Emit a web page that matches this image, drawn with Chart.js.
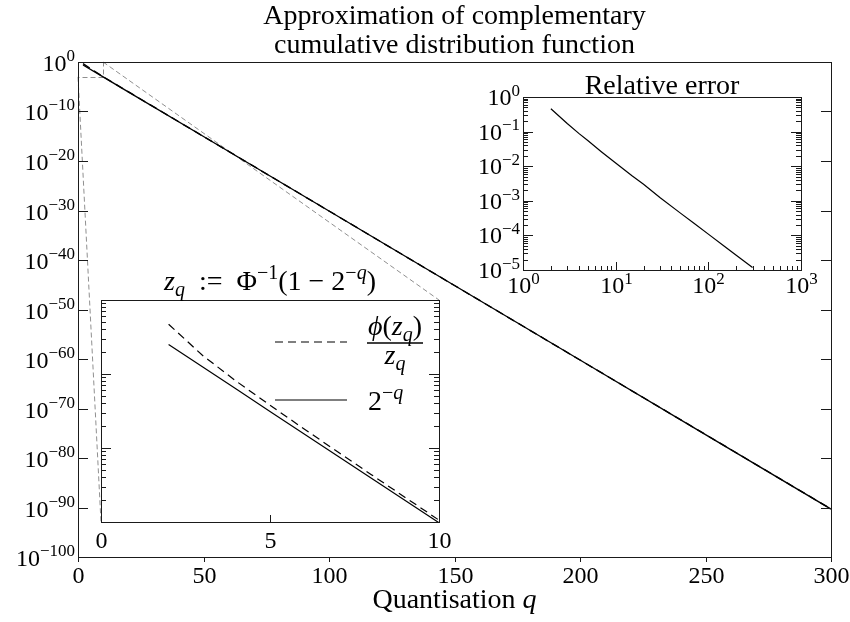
<!DOCTYPE html>
<html>
<head>
<meta charset="utf-8">
<script src="https://cdn.jsdelivr.net/npm/chart.js@4.4.1/dist/chart.umd.min.js"></script>
<style>
  html, body { margin: 0; padding: 0; background: #fff; }
  #wrap { position: relative; width: 850px; height: 622px; }
  #wrap canvas { position: absolute; left: 0; top: 0; }
</style>
</head>
<body>
<div id="wrap">
  <canvas id="mainChart" width="850" height="622"></canvas>
  <canvas id="errChart" width="850" height="622"></canvas>
  <canvas id="zoomChart" width="850" height="622"></canvas>
</div>
<script>
// tail probability 2^-q and its approximation phi(z_q)/z_q over the full q range
const qMain = [2, 10, 20, 50, 100, 150, 200, 250, 300];
const tailExact = [0.25, 9.77e-4, 9.54e-7, 8.88e-16, 7.89e-31, 7.01e-46, 6.22e-61, 5.53e-76, 4.91e-91];
const tailApprox = [0.471, 1.06e-3, 9.94e-7, 9.02e-16, 7.95e-31, 7.04e-46, 6.24e-61, 5.55e-76, 4.92e-91];

// close-up for small q
const qZoom = [2, 3, 4, 5, 6, 7, 8, 9, 10];
const zoomExact = [0.25, 0.125, 0.0625, 0.03125, 0.0156, 0.00781, 0.00391, 0.00195, 9.77e-4];
const zoomApprox = [0.471, 0.179, 0.0800, 0.0379, 0.0182, 0.00888, 0.00436, 0.00215, 1.06e-3];

// relative error of the approximation
const qErr = [2, 3, 4, 5, 7, 10, 15, 20, 30, 50, 70, 100, 150, 200, 250, 300];
const relErr = [0.458, 0.172, 0.089, 0.055, 0.0263, 0.0124, 0.0053, 0.0030, 0.00124, 4.4e-4, 2.25e-4, 1.09e-4, 4.8e-5, 2.67e-5, 1.70e-5, 1.18e-5];

// tick positions (exponents for log axes)
const mainXTicks = [0, 50, 100, 150, 200, 250, 300];
const mainYExp = [0, -10, -20, -30, -40, -50, -60, -70, -80, -90, -100];
const errXExp = [0, 1, 2, 3];
const errYExp = [0, -1, -2, -3, -4, -5];
const zoomXTicks = [0, 5, 10];
const zoomYExp = [0, -1, -2, -3];

const SERIF = '"Liberation Serif", "Times New Roman", serif';
const NUM = 24;
const TXT = 28;
const INK = '#1a1a1a';
const GREY = '#8f8f8f';

const pts = (xs, ys) => xs.map((x, i) => ({ x: x, y: ys[i] }));
const px = v => Math.round(v) + 0.5;

function setFont(ctx, size, italic) {
    ctx.font = (italic ? 'italic ' : '') + size + 'px ' + SERIF;
}

// runs are [text, style]; style: '' | 'i' | 'sup' | 'isup' | 'sub' | 'isub'
function layoutRuns(ctx, runs, size) {
    let w = 0;
    const out = runs.map(([t, s]) => {
        const small = s.includes('sup') || s.includes('sub');
        const sz = small ? Math.round(size * 0.7) : size;
        const it = s.startsWith('i');
        setFont(ctx, sz, it);
        const r = { t: t, sz: sz, it: it, x: w,
            dy: s.includes('sup') ? -size * 0.38 : (s.includes('sub') ? size * 0.22 : 0) };
        w += ctx.measureText(t).width;
        return r;
    });
    return { runs: out, width: w };
}

function drawRuns(ctx, runs, x, y, size, align) {
    const m = layoutRuns(ctx, runs, size);
    const x0 = align === 'right' ? x - m.width : (align === 'center' ? x - m.width / 2 : x);
    ctx.textAlign = 'left';
    ctx.textBaseline = 'alphabetic';
    ctx.fillStyle = '#000';
    m.runs.forEach(r => {
        setFont(ctx, r.sz, r.it);
        ctx.fillText(r.t, x0 + r.x, y + r.dy);
    });
    return m.width;
}

const powRuns = e => [['10', ''], [e < 0 ? '\u2212' + (-e) : String(e), 'sup']];

function seg(ctx, x1, y1, x2, y2) {
    ctx.beginPath();
    ctx.moveTo(x1, y1);
    ctx.lineTo(x2, y2);
    ctx.stroke();
}

function frame(ctx, a) {
    ctx.strokeStyle = INK;
    ctx.lineWidth = 1;
    ctx.setLineDash([]);
    ctx.strokeRect(px(a.left), px(a.top), Math.round(a.right) - Math.round(a.left), Math.round(a.bottom) - Math.round(a.top));
}

// inward ticks on both sides of a log y axis, majors at the given exponents
function logYTicks(ctx, a, y, exps, major, minor) {
    const lo = Math.min(...exps), hi = Math.max(...exps);
    for (let e = lo; e < hi; e++) {
        for (let m = 2; m <= 9; m++) {
            const yy = px(y.getPixelForValue(m * Math.pow(10, e)));
            seg(ctx, a.left, yy, a.left + minor, yy);
            seg(ctx, a.right - minor, yy, a.right, yy);
        }
    }
    exps.forEach(e => {
        const yy = px(y.getPixelForValue(Math.pow(10, e)));
        seg(ctx, a.left, yy, a.left + major, yy);
        seg(ctx, a.right - major, yy, a.right, yy);
    });
}

function whiteArea(chart) {
    const { ctx, chartArea: a } = chart;
    ctx.save();
    ctx.fillStyle = '#fff';
    ctx.fillRect(a.left, a.top, a.right - a.left, a.bottom - a.top);
    ctx.restore();
}

function baseOptions(pad, xs, ys) {
    return {
        responsive: false,
        animation: false,
        events: [],
        layout: { padding: pad },
        plugins: { legend: { display: false }, tooltip: { enabled: false } },
        elements: { point: { radius: 0 }, line: { tension: 0 } },
        scales: {
            x: Object.assign({ display: false }, xs),
            y: Object.assign({ display: false }, ys)
        }
    };
}

// ---------- relative error inset ----------
const errChart = new Chart(document.getElementById('errChart'), {
    type: 'line',
    data: { datasets: [{ data: pts(qErr, relErr), borderColor: '#000', borderWidth: 1.2 }] },
    options: baseOptions({ left: 523, top: 97, right: 49, bottom: 352 },
        { type: 'logarithmic', min: 1, max: 1000 },
        { type: 'logarithmic', min: 1e-5, max: 1 }),
    plugins: [{
        id: 'errFrame',
        beforeDraw: whiteArea,
        afterDraw(chart) {
            const { ctx, chartArea: a, scales: { x, y } } = chart;
            ctx.save();
            frame(ctx, a);
            logYTicks(ctx, a, y, errYExp, 10, 5);
            for (let e = 0; e < 3; e++) {
                for (let m = 2; m <= 9; m++) {
                    const xx = px(x.getPixelForValue(m * Math.pow(10, e)));
                    seg(ctx, xx, a.bottom, xx, a.bottom - 4);
                }
            }
            errXExp.forEach(e => {
                const xx = px(x.getPixelForValue(Math.pow(10, e)));
                seg(ctx, xx, a.bottom, xx, a.bottom - 8);
                drawRuns(ctx, powRuns(e), xx, a.bottom + 23, NUM, 'center');
            });
            errYExp.forEach(e => {
                const yy = y.getPixelForValue(Math.pow(10, e));
                drawRuns(ctx, powRuns(e), a.left - 3, yy + 8, NUM, 'right');
            });
            drawRuns(ctx, [['Relative error', '']], (a.left + a.right) / 2, a.top - 3, TXT, 'center');
            ctx.restore();
        }
    }]
});

// ---------- small-q inset ----------
const zoomChart = new Chart(document.getElementById('zoomChart'), {
    type: 'line',
    data: {
        datasets: [
            { data: pts(qZoom, zoomExact), borderColor: '#000', borderWidth: 1.2 },
            { data: pts(qZoom, zoomApprox), borderColor: '#000', borderWidth: 1.2, borderDash: [8, 5] }
        ]
    },
    options: baseOptions({ left: 101, top: 300, right: 411, bottom: 100 },
        { type: 'linear', min: 0, max: 10 },
        { type: 'logarithmic', min: 1e-3, max: 1 }),
    plugins: [{
        id: 'zoomFrame',
        beforeDraw: whiteArea,
        afterDraw(chart) {
            const { ctx, chartArea: a, scales: { x, y } } = chart;
            ctx.save();
            frame(ctx, a);
            logYTicks(ctx, a, y, zoomYExp, 10, 5);
            zoomXTicks.forEach(v => {
                const xx = px(x.getPixelForValue(v));
                seg(ctx, xx, a.bottom, xx, a.bottom - 7);
                drawRuns(ctx, [[String(v), '']], xx, a.bottom + 26, NUM, 'center');
            });
            drawRuns(ctx, [['z', 'i'], ['q', 'isub'], ['\u2002:=\u2002\u03a6', ''], ['\u22121', 'sup'],
                ['(1 \u2212 2', ''], ['\u2212', 'sup'], ['q', 'isup'], [')', '']],
                (a.left + a.right) / 2, a.top - 10, TXT, 'center');

            // legend
            const lx0 = a.left + 174, lx1 = a.left + 246, tx = a.left + 267;
            ctx.strokeStyle = '#000';
            ctx.lineWidth = 1.2;
            ctx.setLineDash([8, 5]);
            seg(ctx, lx0, a.top + 42, lx1, a.top + 42);
            ctx.setLineDash([]);
            seg(ctx, lx0, a.top + 100, lx1, a.top + 100);
            const numW = drawRuns(ctx, [['\u03d5', 'i'], ['(', ''], ['z', 'i'], ['q', 'isub'], [')', '']],
                tx, a.top + 35, TXT, 'left');
            ctx.lineWidth = 1.5;
            seg(ctx, tx - 1, a.top + 43, tx + numW + 1, a.top + 43);
            drawRuns(ctx, [['z', 'i'], ['q', 'isub']], tx + numW / 2, a.top + 64, TXT, 'center');
            drawRuns(ctx, [['2', ''], ['\u2212', 'sup'], ['q', 'isup']], tx, a.top + 110, TXT, 'left');
            ctx.restore();
        }
    }]
});

// ---------- main axes ----------
const mainChart = new Chart(document.getElementById('mainChart'), {
    type: 'line',
    data: {
        datasets: [
            { data: pts(qMain, tailExact), borderColor: '#000', borderWidth: 1.4 },
            { data: pts(qMain, tailApprox), borderColor: '#000', borderWidth: 1.4, borderDash: [8, 5] }
        ]
    },
    options: baseOptions({ left: 78, top: 62, right: 19, bottom: 65 },
        { type: 'linear', min: 0, max: 300 },
        { type: 'logarithmic', min: 1e-100, max: 1 }),
    plugins: [{
        id: 'mainFrame',
        beforeDatasetsDraw(chart) {
            // zoom marker for the small-q inset
            const { ctx, scales: { x, y } } = chart;
            const za = zoomChart.chartArea;
            const bx0 = x.getPixelForValue(0), bx1 = x.getPixelForValue(10);
            const by0 = y.getPixelForValue(1), by1 = y.getPixelForValue(1e-3);
            ctx.save();
            ctx.strokeStyle = GREY;
            ctx.lineWidth = 1;
            ctx.setLineDash([5, 3]);
            ctx.strokeRect(px(bx0), px(by0), Math.round(bx1 - bx0), Math.round(by1 - by0));
            seg(ctx, bx1, by0, za.right, za.top);
            seg(ctx, bx0, by1, za.left, za.bottom);
            ctx.restore();
        },
        afterDraw(chart) {
            const { ctx, chartArea: a, scales: { x, y } } = chart;
            ctx.save();
            frame(ctx, a);
            mainYExp.forEach(e => {
                const yy = px(y.getPixelForValue(Math.pow(10, e)));
                seg(ctx, a.left, yy, a.left + 10, yy);
                seg(ctx, a.right - 10, yy, a.right, yy);
                drawRuns(ctx, powRuns(e), a.left - 3, yy + 8, NUM, 'right');
            });
            mainXTicks.forEach(v => {
                const xx = px(x.getPixelForValue(v));
                seg(ctx, xx, a.bottom, xx, a.bottom + 5);
                drawRuns(ctx, [[String(v), '']], xx, a.bottom + 26, NUM, 'center');
            });
            const cx = (a.left + a.right) / 2;
            drawRuns(ctx, [['Quantisation ', ''], ['q', 'i']], cx, a.bottom + 51, TXT, 'center');
            drawRuns(ctx, [['Approximation of complementary', '']], cx, 24, TXT, 'center');
            drawRuns(ctx, [['cumulative distribution function', '']], cx, 53, TXT, 'center');
            ctx.restore();
        }
    }]
});
</script>
</body>
</html>
